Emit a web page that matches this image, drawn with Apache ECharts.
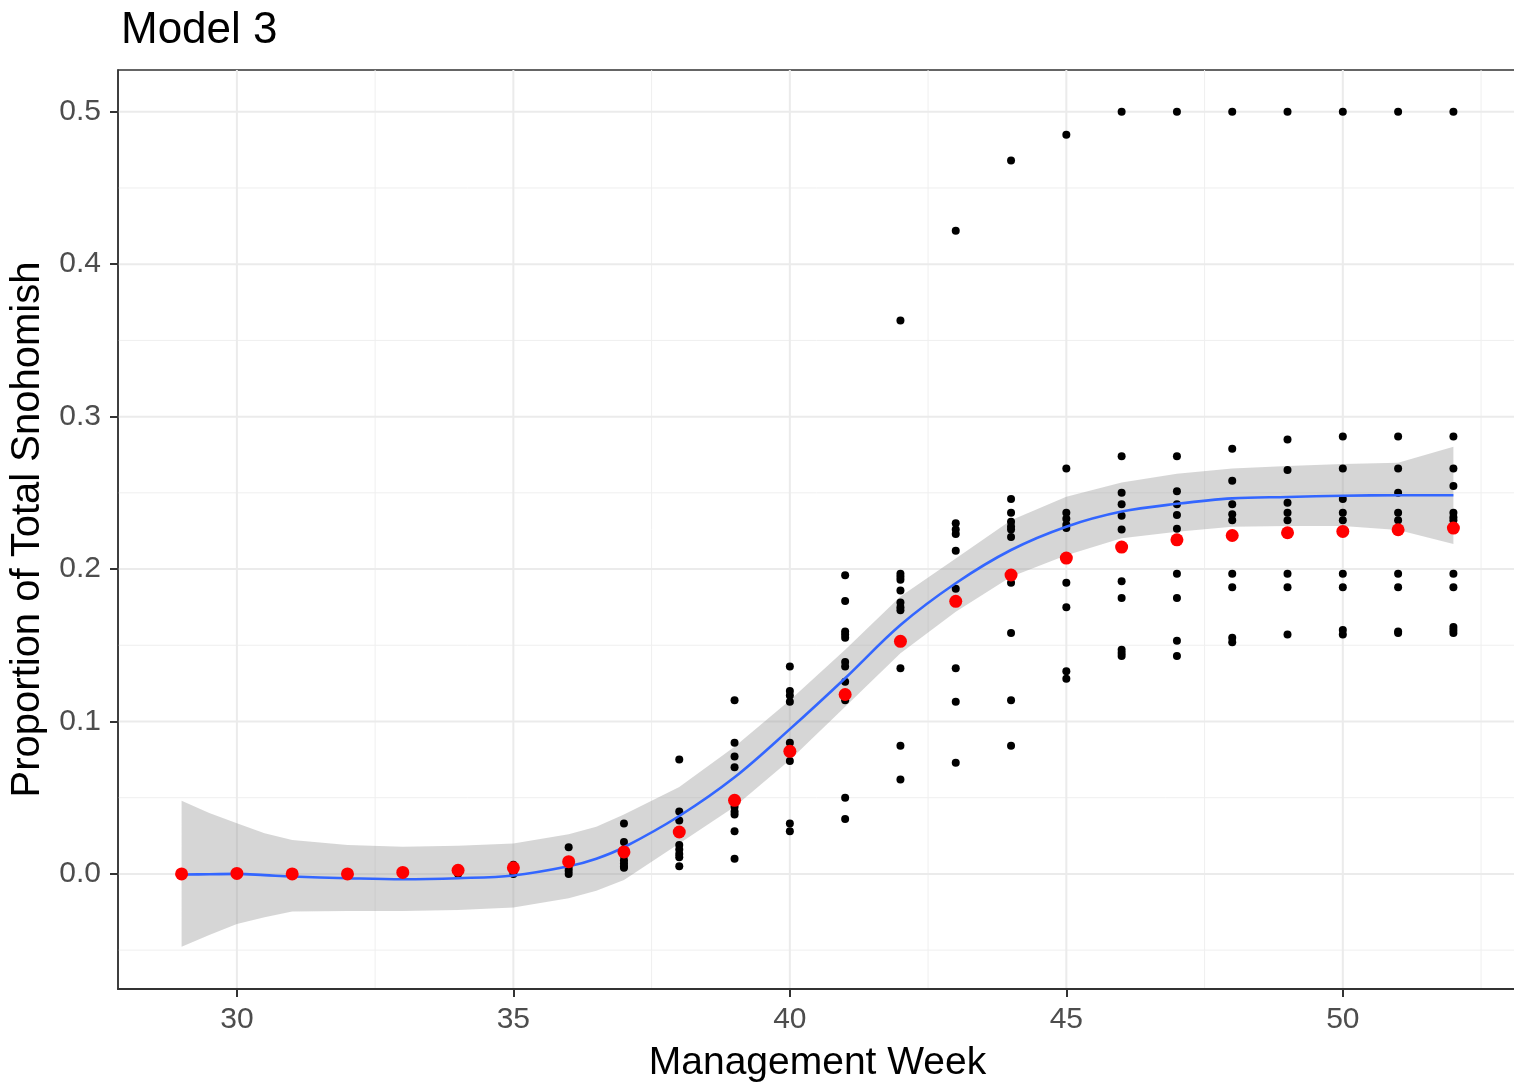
<!DOCTYPE html>
<html>
<head>
<meta charset="utf-8">
<script src="https://cdn.jsdelivr.net/npm/echarts@6/dist/echarts.min.js"></script>
<style>
html,body{margin:0;padding:0;background:#fff;}
#chart{width:1514px;height:1083px;}
</style>
</head>
<body>
<div id="chart"></div>
<script>
// ---- data ----
const weeks = [29,30,31,32,33,34,35,36,37,38,39,40,41,42,43,44,45,46,47,48,49,50,51,52];
const meanProportion = [0.000,0.0003,0.000,0.000,0.001,0.0024,0.004,0.008,0.0144,0.0275,0.0483,0.0804,0.1177,0.1526,0.1788,0.1961,0.2072,0.2144,0.2192,0.222,0.2238,0.2247,0.2258,0.2269];
const observedByWeek = [
  [0.000,0.000],
  [0.000,0.000],
  [0.000,0.000],
  [0.000,0.000],
  [0.000,0.001],
  [0.000,0.002],
  [0.000,0.002,0.006],
  [0.0175,0.008,0.004,0.002,0.000],
  [0.033,0.021,0.016,0.012,0.009,0.007,0.005,0.004],
  [0.075,0.041,0.035,0.019,0.016,0.013,0.011,0.005],
  [0.114,0.086,0.077,0.070,0.044,0.041,0.039,0.028,0.010],
  [0.136,0.120,0.117,0.113,0.086,0.074,0.033,0.028],
  [0.196,0.179,0.159,0.157,0.155,0.139,0.136,0.126,0.114,0.050,0.036],
  [0.363,0.197,0.195,0.193,0.186,0.178,0.175,0.173,0.135,0.084,0.062],
  [0.422,0.230,0.226,0.223,0.212,0.187,0.135,0.113,0.073],
  [0.468,0.246,0.237,0.231,0.228,0.226,0.221,0.191,0.158,0.114,0.084],
  [0.485,0.266,0.237,0.233,0.229,0.227,0.191,0.175,0.133,0.128],
  [0.500,0.274,0.250,0.2425,0.235,0.226,0.192,0.181,0.147,0.145,0.143],
  [0.500,0.274,0.251,0.2425,0.2355,0.2265,0.197,0.181,0.153,0.143],
  [0.500,0.279,0.258,0.2425,0.236,0.232,0.197,0.188,0.155,0.152],
  [0.500,0.285,0.265,0.2435,0.237,0.232,0.197,0.188,0.157],
  [0.500,0.287,0.266,0.246,0.237,0.232,0.197,0.188,0.160,0.157],
  [0.500,0.287,0.266,0.250,0.237,0.232,0.197,0.188,0.159,0.158],
  [0.500,0.287,0.266,0.2545,0.237,0.234,0.232,0.197,0.188,0.162,0.160,0.158]
];
const smoothWeeks = [29,29.5,30,30.5,31,32,33,34,35,36,36.5,37,38,39,40,41,42,43,44,45,46,47,48,49,50,51,52];
const smoothFit   = [-0.0004,-0.0002,0.000,-0.0008,-0.0017,-0.0028,-0.0035,-0.0028,-0.001,0.005,0.010,0.0175,0.038,0.0634,0.095,0.1284,0.1633,0.1907,0.2125,0.2278,0.2377,0.2428,0.2464,0.2473,0.2481,0.2484,0.2484];
const smoothLower = [-0.0478,-0.040,-0.0328,-0.0284,-0.0247,-0.0243,-0.0243,-0.0236,-0.022,-0.016,-0.011,-0.004,0.020,0.0441,0.0748,0.1097,0.1448,0.172,0.195,0.209,0.2202,0.2245,0.2278,0.2283,0.2283,0.2256,0.2165];
const smoothUpper = [0.0480,0.040,0.0332,0.0267,0.0223,0.019,0.0179,0.0184,0.020,0.026,0.031,0.039,0.057,0.0835,0.114,0.147,0.182,0.207,0.232,0.2475,0.2568,0.2625,0.266,0.2676,0.2689,0.2698,0.2803];
const xTicks = [30,35,40,45,50];
const xMinor = [32.5,37.5,42.5,47.5,52.5];
const yTicks = [0,0.1,0.2,0.3,0.4,0.5];
const yMinor = [-0.05,0.05,0.15,0.25,0.35,0.45];

// ---- chart ----
const FONT = "'Liberation Sans', Arial, sans-serif";
const chart = echarts.init(document.getElementById('chart'), null, {renderer:'canvas'});

const blackPts = [];
weeks.forEach((w,i)=>observedByWeek[i].forEach(v=>blackPts.push([w,v])));
const redPts = weeks.map((w,i)=>[w, meanProportion[i]]);
const fitPts = smoothWeeks.map((w,i)=>[w, smoothFit[i]]);

function gridRender(params, api){
  const cs = params.coordSys;
  const x0 = cs.x, x1 = cs.x + cs.width, y0 = cs.y, y1 = cs.y + cs.height;
  const children = [];
  const vline = (v, w, c) => {
    const p = api.coord([v, 0]);
    children.push({type:'line', shape:{x1:p[0], y1:y0, x2:p[0], y2:y1}, style:{stroke:c, lineWidth:w}});
  };
  const hline = (v, w, c) => {
    const p = api.coord([xTicks[0], v]);
    children.push({type:'line', shape:{x1:x0, y1:p[1], x2:x1, y2:p[1]}, style:{stroke:c, lineWidth:w}});
  };
  xMinor.forEach(v=>vline(v, 1, '#EFEFEF'));
  yMinor.forEach(v=>hline(v, 1, '#EFEFEF'));
  xTicks.forEach(v=>vline(v, 2, '#EBEBEB'));
  yTicks.forEach(v=>hline(v, 2, '#EBEBEB'));
  return {type:'group', children};
}

chart.setOption({
  animation:false,
  backgroundColor:'#ffffff',
  title:{
    text:'Model 3', left:116, top:4,
    textStyle:{fontFamily:FONT, fontSize:44, fontWeight:'normal', color:'#000'}
  },
  grid:{left:118, top:70, width:1399, height:919, show:true, borderColor:'#333333', borderWidth:1.5,
    backgroundColor:'transparent', containLabel:false, outerBoundsMode:'none'},
  xAxis:{
    type:'value', min:27.85, max:53.15,
    name:'Management Week', nameLocation:'middle', nameGap:55,
    nameTextStyle:{fontFamily:FONT, fontSize:39, color:'#000'},
    axisLine:{show:true, onZero:false, lineStyle:{color:'#333333', width:2}},
    axisTick:{show:true, length:8, lineStyle:{color:'#333333', width:2}, customValues:xTicks},
    axisLabel:{fontFamily:FONT, fontSize:30, color:'#4D4D4D', margin:16, customValues:xTicks},
    splitLine:{show:false}
  },
  yAxis:{
    type:'value', min:-0.0755, max:0.5274,
    name:'Proportion of Total Snohomish', nameLocation:'middle', nameGap:68, nameRotate:90,
    nameTextStyle:{fontFamily:FONT, fontSize:40, color:'#000'},
    axisLine:{show:true, onZero:false, lineStyle:{color:'#333333', width:1.5}},
    axisTick:{show:true, length:8, lineStyle:{color:'#333333', width:2}, customValues:yTicks},
    axisLabel:{fontFamily:FONT, fontSize:30, color:'#4D4D4D', margin:17, customValues:yTicks,
      formatter:v=>v.toFixed(1)},
    splitLine:{show:false}
  },
  series:[
    {
      type:'custom', z:0, silent:true, clip:true,
      data:[[xTicks[0], yTicks[0]]],
      renderItem:gridRender
    },
    {
      type:'custom', z:2, silent:true,
      data:[[smoothWeeks[0], smoothFit[0]]],
      renderItem:(params, api)=>{
        const pts = [];
        for (let i=0;i<smoothWeeks.length;i++) pts.push(api.coord([smoothWeeks[i], smoothUpper[i]]));
        for (let i=smoothWeeks.length-1;i>=0;i--) pts.push(api.coord([smoothWeeks[i], smoothLower[i]]));
        return {type:'polygon', shape:{points:pts}, style:{fill:'rgba(153,153,153,0.4)'}};
      }
    },
    {
      type:'scatter', z:3, data:blackPts, symbolSize:8,
      itemStyle:{color:'#000000', opacity:1}
    },
    {
      type:'line', z:4, data:fitPts, showSymbol:false, smooth:0.35,
      lineStyle:{color:'#3366FF', width:2.6}
    },
    {
      type:'scatter', z:5, data:redPts, symbolSize:13,
      itemStyle:{color:'#FF0000', opacity:1}
    }
  ]
});
</script>
</body>
</html>
